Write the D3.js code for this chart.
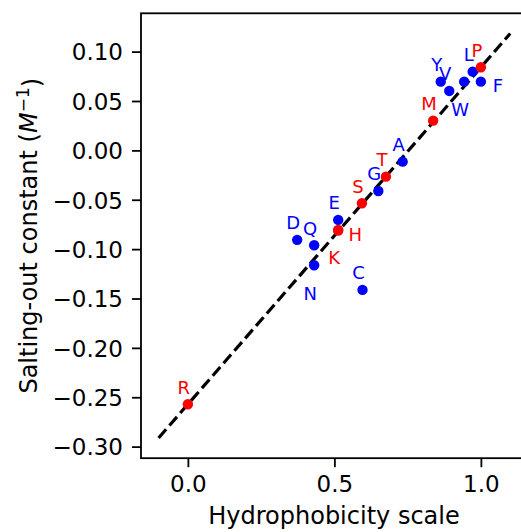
<!DOCTYPE html>
<html>
<head>
<meta charset="utf-8">
<script src="https://cdn.jsdelivr.net/npm/d3@7"></script>
<style>
  html, body { margin: 0; padding: 0; background: #fff; }
  svg { display: block; font-family: "DejaVu Sans", sans-serif; }
</style>
</head>
<body>
<svg id="chart" width="521" height="532"></svg>
<script>
// ---- data ----
const aminoAcids = ["A","C","D","E","F","G","H","K","L","M","N","P","Q","R","S","T","V","W","Y"];
const hydrophobicity = [0.733, 0.596, 0.373, 0.513, 1.000, 0.650, 0.513, 0.513, 0.972, 0.837, 0.431, 1.000, 0.431, 0.000, 0.594, 0.676, 0.892, 0.943, 0.863];
const saltingOut = [-0.0114, -0.1413, -0.0906, -0.0704, 0.0696, -0.0411, -0.0813, -0.0805, 0.0797, 0.0301, -0.1163, 0.0842, -0.0961, -0.2571, -0.0535, -0.0266, 0.0602, 0.0696, 0.0696];
const redGroup = ["H","K","M","P","R","S","T"];
const fitSlope = 0.3413;
const fitIntercept = -0.2571;
const fitXRange = [-0.1, 1.1];
const xTicks = [0.0, 0.5, 1.0];
const yTicks = [0.10, 0.05, 0.00, -0.05, -0.10, -0.15, -0.20, -0.25, -0.30];
// label placement relative to point (default "above")
const labelSide = { F: "right", H: "right", K: "below", N: "below", W: "below" };

// ---- layout ----
const svg = d3.select("#chart");
const mLeft = 141, mTop = 13.3;
const xPxPerUnit = 293, yPxPerUnit = 987.5;

const fitY = v => fitIntercept + fitSlope * v;
const xm = 0.05 * (fitXRange[1] - fitXRange[0]);
const xDomain = [fitXRange[0] - xm, fitXRange[1] + xm];
const fy0 = fitY(fitXRange[0]), fy1 = fitY(fitXRange[1]);
const ym = 0.05 * (fy1 - fy0);
const yDomain = [fy0 - ym, fy1 + ym];

const plotW = (xDomain[1] - xDomain[0]) * xPxPerUnit;
const plotH = (yDomain[1] - yDomain[0]) * yPxPerUnit;

const x = d3.scaleLinear().domain(xDomain).range([mLeft, mLeft + plotW]);
const y = d3.scaleLinear().domain(yDomain).range([mTop + plotH, mTop]);

const tickFont = "23px";
const fmtMinus = s => s.replace("-", "\u2212");

// fit line
svg.append("line")
  .attr("x1", x(fitXRange[0])).attr("y1", y(fy0))
  .attr("x2", x(fitXRange[1])).attr("y2", y(fy1))
  .attr("stroke", "#000").attr("stroke-width", 3.2)
  .attr("stroke-dasharray", "11.5,5");

// points
const pts = aminoAcids.map((n, i) => ({ name: n, x: hydrophobicity[i], y: saltingOut[i], red: redGroup.includes(n) }));
const ordered = pts.filter(d => !d.red).concat(pts.filter(d => d.red));
svg.append("g").selectAll("circle").data(ordered).join("circle")
  .attr("cx", d => x(d.x)).attr("cy", d => y(d.y)).attr("r", 5.2)
  .attr("fill", d => d.red ? "#ff0000" : "#0000ff");

// labels
svg.append("g").selectAll("text").data(pts).join("text")
  .attr("x", d => {
    const s = labelSide[d.name] || "above";
    return x(d.x) + (s === "right" ? 17 : -4);
  })
  .attr("y", d => {
    const s = labelSide[d.name] || "above";
    return y(d.y) + (s === "right" ? 10.5 : s === "below" ? 34.5 : -10.5);
  })
  .attr("text-anchor", "middle")
  .attr("font-size", "18px")
  .attr("fill", d => d.red ? "#ff0000" : "#0000ff")
  .text(d => d.name);

// axes
const xAxis = svg.append("g").attr("transform", `translate(0,${mTop + plotH})`)
  .call(d3.axisBottom(x).tickValues(xTicks).tickFormat(d3.format(".1f")).tickSize(9).tickPadding(8));
const yAxis = svg.append("g").attr("transform", `translate(${mLeft},0)`)
  .call(d3.axisLeft(y).tickValues(yTicks).tickFormat(d => fmtMinus(d3.format(".2f")(d))).tickSize(9).tickPadding(9));
[xAxis, yAxis].forEach(g => {
  g.selectAll("text").attr("font-size", tickFont).attr("fill", "#000").attr("font-family", "DejaVu Sans");
  g.selectAll("line").attr("stroke", "#000").attr("stroke-width", 1.8);
  g.select(".domain").remove();
});
xAxis.selectAll("text").attr("dy", "0.71em");
yAxis.selectAll("text").attr("dy", "0.36em");

// frame (spines)
svg.append("rect")
  .attr("x", mLeft).attr("y", mTop).attr("width", plotW).attr("height", plotH)
  .attr("fill", "none").attr("stroke", "#000").attr("stroke-width", 1.8);

// axis titles
svg.append("text")
  .attr("x", 334).attr("y", 524)
  .attr("text-anchor", "middle").attr("font-size", "24px").attr("fill", "#000")
  .text("Hydrophobicity scale");

const yl = svg.append("text")
  .attr("transform", `translate(37,${mTop + plotH / 2}) rotate(-90)`)
  .attr("text-anchor", "middle").attr("font-size", "24px").attr("fill", "#000");
yl.append("tspan").text("Salting-out constant (");
yl.append("tspan").attr("font-style", "italic").text("M");
yl.append("tspan").attr("dy", "-0.45em").attr("font-size", "17px").text("\u22121");
yl.append("tspan").attr("dy", "0.45em").text(")");
</script>
</body>
</html>
